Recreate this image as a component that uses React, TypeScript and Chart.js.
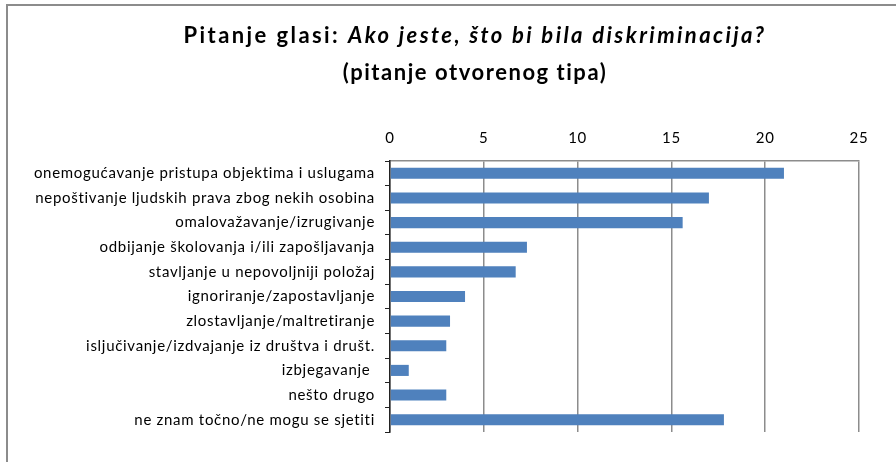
import React, { useEffect, useRef } from "react";
import { Chart, registerables } from "chart.js";

Chart.register(...registerables);

const categories = [
  "onemogućavanje pristupa objektima i uslugama",
  "nepoštivanje ljudskih prava zbog nekih osobina",
  "omalovažavanje/izrugivanje",
  "odbijanje školovanja i/ili zapošljavanja",
  "stavljanje u nepovoljniji položaj",
  "ignoriranje/zapostavljanje",
  "zlostavljanje/maltretiranje",
  "isljučivanje/izdvajanje iz društva i društ.",
  "izbjegavanje ",
  "nešto drugo",
  "ne znam točno/ne mogu se sjetiti",
];
const values = [21.0, 17.0, 15.6, 7.3, 6.7, 4.0, 3.2, 3.0, 1.0, 3.0, 17.8];
const titleBold = "Pitanje glasi: ";
const titleItalic = "Ako jeste, što bi bila diskriminacija?";
const titleLine2 = "(pitanje otvorenog tipa)";
const xMin = 0;
const xMax = 25;
const xStep = 5;

const FONT = "Lato, 'Noto Sans', sans-serif";

const spacingPlugin = {
  id: "labelSpacing",
  beforeDraw(chart: any) {
    chart.ctx.letterSpacing = "0.7px";
  },
  afterDatasetsDraw(chart: any) {
    chart.ctx.letterSpacing = "0px";
  },
};

const titlePlugin = {
  id: "customTitle",
  afterDraw(chart: any) {
    const ctx = chart.ctx;
    ctx.save();
    ctx.letterSpacing = "0px";
    ctx.strokeStyle = "#8c8c8c";
    ctx.lineWidth = 2;
    ctx.strokeRect(7, 5, 1200, 1200);
    ctx.fillStyle = "#000";
    ctx.textBaseline = "middle";
    ctx.textAlign = "left";
    const cx = 475;
    const fb = `bold 22px ${FONT}`;
    const fi = `italic bold 22px ${FONT}`;
    ctx.font = fb;
    const w1 = ctx.measureText(titleBold).width;
    ctx.font = fi;
    const w2 = ctx.measureText(titleItalic).width;
    const target1 = 583;
    const n1 = titleBold.length + titleItalic.length;
    const ls1 = Math.max(0, (target1 - w1 - w2) / n1);
    ctx.letterSpacing = `${ls1}px`;
    ctx.font = fb;
    const w1s = ctx.measureText(titleBold).width;
    ctx.font = fi;
    const w2s = ctx.measureText(titleItalic).width;
    const start = cx - (w1s + w2s) / 2;
    ctx.font = fb;
    ctx.fillText(titleBold, start, 36);
    ctx.font = fi;
    ctx.fillText(titleItalic, start + w1s, 36);
    ctx.letterSpacing = "0px";
    ctx.font = fb;
    const w3 = ctx.measureText(titleLine2).width;
    const ls2 = Math.max(0, (265 - w3) / titleLine2.length);
    ctx.letterSpacing = `${ls2}px`;
    const w3s = ctx.measureText(titleLine2).width;
    ctx.fillText(titleLine2, cx - w3s / 2, 73);
    ctx.restore();
  },
};

export default function App() {
  const ref = useRef<HTMLCanvasElement>(null);
  useEffect(() => {
    if (!ref.current) return;
    const chart = new Chart(ref.current, {
      type: "bar",
      data: {
        labels: categories,
        datasets: [
          {
            data: values,
            backgroundColor: "#4F81BD",
            borderWidth: 0,
            categoryPercentage: 1,
            barPercentage: 0.45,
          },
        ],
      },
      options: {
        indexAxis: "y",
        animation: false,
        responsive: false,
        maintainAspectRatio: false,
        layout: { padding: { top: 120, left: 0, right: 37, bottom: 30 } },
        plugins: { legend: { display: false }, title: { display: false }, tooltip: { enabled: false } },
        scales: {
          x: {
            position: "top",
            min: xMin,
            max: xMax,
            ticks: { stepSize: xStep, color: "#000", font: { family: FONT, size: 15 }, padding: 14 },
            grid: { color: "#8c8c8c", lineWidth: 1.5, drawTicks: false },
            border: { display: true, color: "#8c8c8c", width: 1.5 },
            afterFit: (s: any) => {
              s.height = 41;
            },
          },
          y: {
            ticks: { color: "#000", font: { family: FONT, size: 15 }, padding: 10, autoSkip: false },
            grid: { display: true, drawOnChartArea: false, drawTicks: true, tickLength: 5, color: "#222", offset: true },
            border: { display: true, color: "#222", width: 1.5 },
            afterFit: (s: any) => {
              s.width = 390;
            },
          },
        },
      },
      plugins: [spacingPlugin, titlePlugin],
    });
    return () => chart.destroy();
  }, []);
  return (
    <div style={{ position: "fixed", left: 0, top: 0, width: 896, height: 462, background: "#fff" }}>
      <canvas ref={ref} width={896} height={462} style={{ width: 896, height: 462 }} />
    </div>
  );
}
